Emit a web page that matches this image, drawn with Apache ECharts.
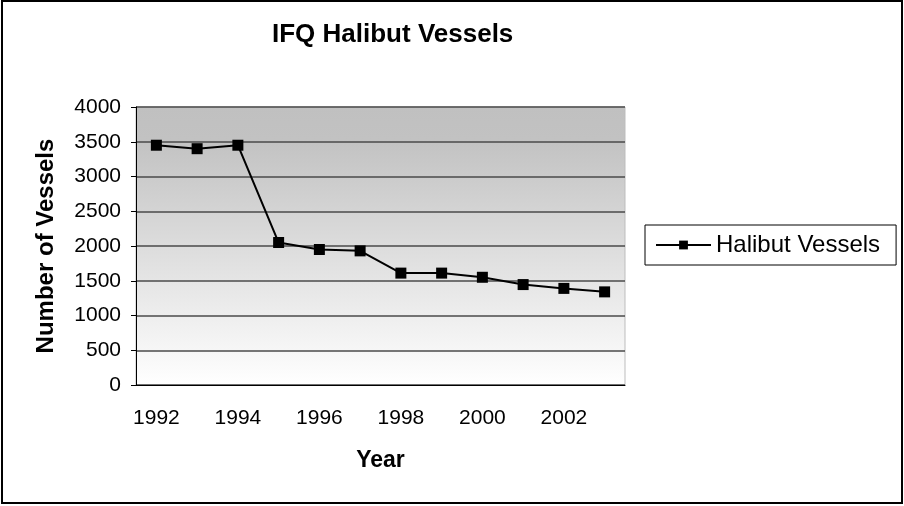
<!DOCTYPE html>
<html>
<head>
  <meta charset="utf-8" />
  <title>IFQ Halibut Vessels</title>
  <script src="https://cdn.jsdelivr.net/npm/echarts@6.0.0/dist/echarts.min.js"></script>
</head>
<style>
  body { margin: 0; padding: 0; overflow: hidden; background: #fff; }
</style>
<body>
  <div id="main" style="width: 904px;height: 506px;"></div>
  <script type="text/javascript">
    // data
    const years = ['1992', '1993', '1994', '1995', '1996', '1997', '1998', '1999', '2000', '2001', '2002', '2003'];
    const vessels = [3450, 3400, 3450, 2050, 1950, 1930, 1610, 1610, 1550, 1445, 1390, 1340];
    const seriesName = 'Halibut Vessels';

    const font = 'Arial, "Liberation Sans", sans-serif';
    const myChart = echarts.init(document.getElementById('main'));

    const option = {
      animation: false,
      textStyle: { fontFamily: font },
      title: {
        text: 'IFQ Halibut Vessels',
        left: 272,
        top: 22,
        padding: 0,
        textStyle: { fontSize: 26, fontWeight: 'bold', color: '#000', fontFamily: font }
      },
      legend: {
        left: 645,
        top: 225,
        padding: [8, 16, 8, 10],
        borderColor: '#000',
        borderWidth: 1,
        itemWidth: 55,
        itemHeight: 11,
        textStyle: { fontSize: 24, color: '#000', fontFamily: font },
        data: [seriesName]
      },
      graphic: [{
        type: 'rect',
        shape: { x: 2, y: 1, width: 900, height: 502 },
        style: { fill: 'none', stroke: '#000', lineWidth: 2 },
        silent: true
      }],
      grid: {
        left: 136,
        right: 279,
        top: 107,
        bottom: 121,
        show: true,
        borderColor: '#bdbdbd',
        borderWidth: 1,
        backgroundColor: new echarts.graphic.LinearGradient(0, 0, 0, 1, [
          { offset: 0, color: '#c0c0c0' },
          { offset: 0.12, color: '#c2c2c2' },
          { offset: 1, color: '#ffffff' }
        ])
      },
      xAxis: {
        type: 'category',
        data: years,
        boundaryGap: true,
        name: 'Year',
        nameLocation: 'middle',
        nameGap: 64,
        nameTextStyle: { fontSize: 23, fontWeight: 'bold', color: '#000', fontFamily: font },
        axisLine: { lineStyle: { color: '#000', width: 1 } },
        axisTick: { interval: 0, length: 5, lineStyle: { color: '#000' } },
        axisLabel: { interval: 1, margin: 23, fontSize: 21, color: '#000', fontFamily: font },
        splitLine: { show: false }
      },
      yAxis: {
        type: 'value',
        min: 0,
        max: 4000,
        interval: 500,
        name: 'Number of Vessels',
        nameLocation: 'middle',
        nameGap: 78,
        nameTextStyle: { fontSize: 24, fontWeight: 'bold', color: '#000', fontFamily: font },
        axisLine: { show: true, lineStyle: { color: '#000', width: 1 } },
        axisTick: { show: true, length: 5, lineStyle: { color: '#000' } },
        axisLabel: { margin: 15, fontSize: 21, color: '#000', fontFamily: font, formatter: v => String(v) },
        splitLine: { lineStyle: { color: '#4a4a4a', width: 1.5 } }
      },
      series: [{
        name: seriesName,
        type: 'line',
        data: vessels,
        symbol: 'rect',
        symbolSize: 11,
        showAllSymbol: true,
        itemStyle: { color: '#000' },
        lineStyle: { color: '#000', width: 2 }
      }]
    };
    myChart.setOption(option);
  </script>
</body>
</html>
